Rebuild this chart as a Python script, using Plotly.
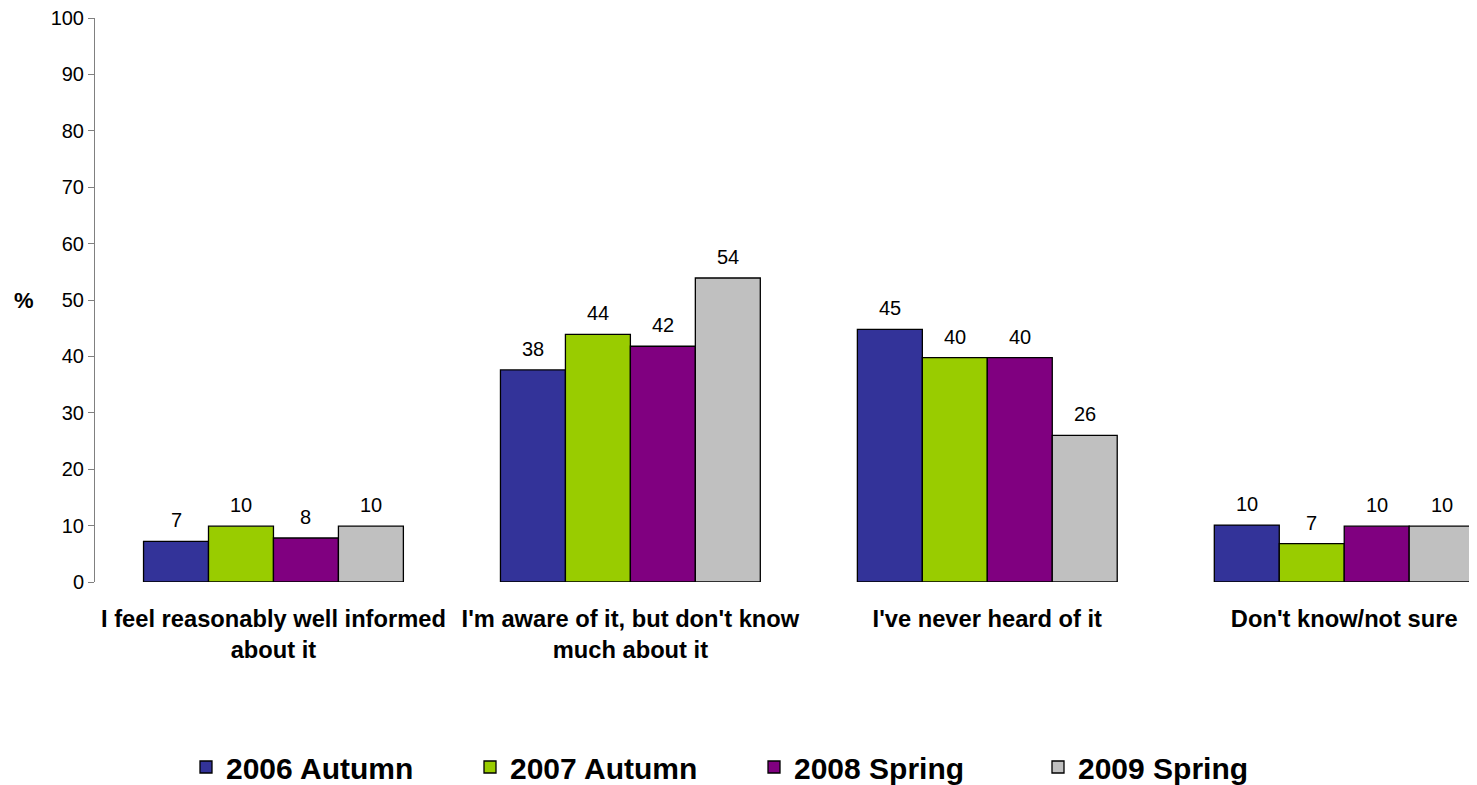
import plotly.graph_objects as go

categories = [
    "I feel reasonably well informed<br>about it",
    "I'm aware of it, but don't know<br>much about it",
    "I've never heard of it",
    "Don't know/not sure",
]
series_names = ["2006 Autumn", "2007 Autumn", "2008 Spring", "2009 Spring"]
s2006_autumn = [7.2, 37.6, 44.8, 10.1]
s2007_autumn = [9.9, 43.9, 39.8, 6.8]
s2008_spring = [7.8, 41.8, 39.8, 9.9]
s2009_spring = [9.9, 53.9, 26.0, 9.9]
series_values = [s2006_autumn, s2007_autumn, s2008_spring, s2009_spring]
colors = ["#333399", "#99CC00", "#800080", "#C0C0C0"]
y_ticks = [0, 10, 20, 30, 40, 50, 60, 70, 80, 90, 100]

# the page body adds an 8px offset, so the figure is sized to fit the window
OFF = 8
W, H = 1477 - OFF, 785 - OFF
M_L, M_R, M_T = 95 - OFF, 0, 18 - OFF
M_B = H - (582.5 - OFF)
BARGAP = 0.272
x_hi = 3.372

fig = go.Figure()
for name, vals, col in zip(series_names, series_values, colors):
    fig.add_trace(go.Bar(
        x=categories, y=vals, name=name,
        marker=dict(color=col, line=dict(color="#000000", width=1.3)),
        hoverinfo="skip",
    ))

# value labels placed above each bar (offset per series within a group)
plot_w = W - M_L - M_R
cat_px = plot_w / (x_hi + 0.5)
bar_px = cat_px * (1 - BARGAP) / len(series_names)
annotations = []
for i, vals in enumerate(series_values):
    for c, v in zip(categories, vals):
        annotations.append(dict(
            x=c, y=v, xref="x", yref="y", text=f"{v:.0f}",
            showarrow=False, yanchor="bottom", xanchor="center",
            xshift=(i - 1.5) * bar_px, yshift=8,
            font=dict(family="Liberation Sans, Arial", size=20, color="#000000"),
        ))
annotations.append(dict(
    x=0, y=50, xref="paper", yref="y", text="<b>%</b>", showarrow=False,
    xanchor="center", yanchor="middle", xshift=-71,
    font=dict(family="Liberation Sans, Arial", size=22, color="#000000"),
))

fig.update_layout(
    width=W, height=H,
    margin=dict(l=M_L, r=M_R, t=M_T, b=M_B, pad=0),
    paper_bgcolor="#FFFFFF", plot_bgcolor="#FFFFFF",
    barmode="group", bargap=BARGAP, bargroupgap=0,
    font=dict(family="Liberation Sans, Arial", color="#000000"),
    showlegend=True,
    legend=dict(
        orientation="h", xref="container", yref="container",
        x=178 / W, y=(H - (767 - OFF)) / H, xanchor="left", yanchor="middle",
        font=dict(size=30, family="Liberation Sans, Arial", color="#000000", weight="bold"),
        entrywidth=239, entrywidthmode="pixels",
        bgcolor="rgba(0,0,0,0)",
    ),
    annotations=annotations,
    xaxis=dict(
        range=[-0.5, x_hi], showline=False, showgrid=False, zeroline=False,
        ticks="", tickangle=0, ticklabelstandoff=20,
        tickfont=dict(size=23.7, family="Liberation Sans, Arial", color="#000000", weight="bold"),
        fixedrange=True,
    ),
    yaxis=dict(
        range=[0, 100], tickvals=y_ticks, showgrid=False, zeroline=False,
        showline=True, linecolor="#808080", linewidth=1,
        ticks="outside", ticklen=6, tickcolor="#808080",
        ticklabeloverflow="allow",
        tickfont=dict(size=20, family="Liberation Sans, Arial", color="#000000"),
        fixedrange=True,
    ),
)

fig.write_html("out.html")
